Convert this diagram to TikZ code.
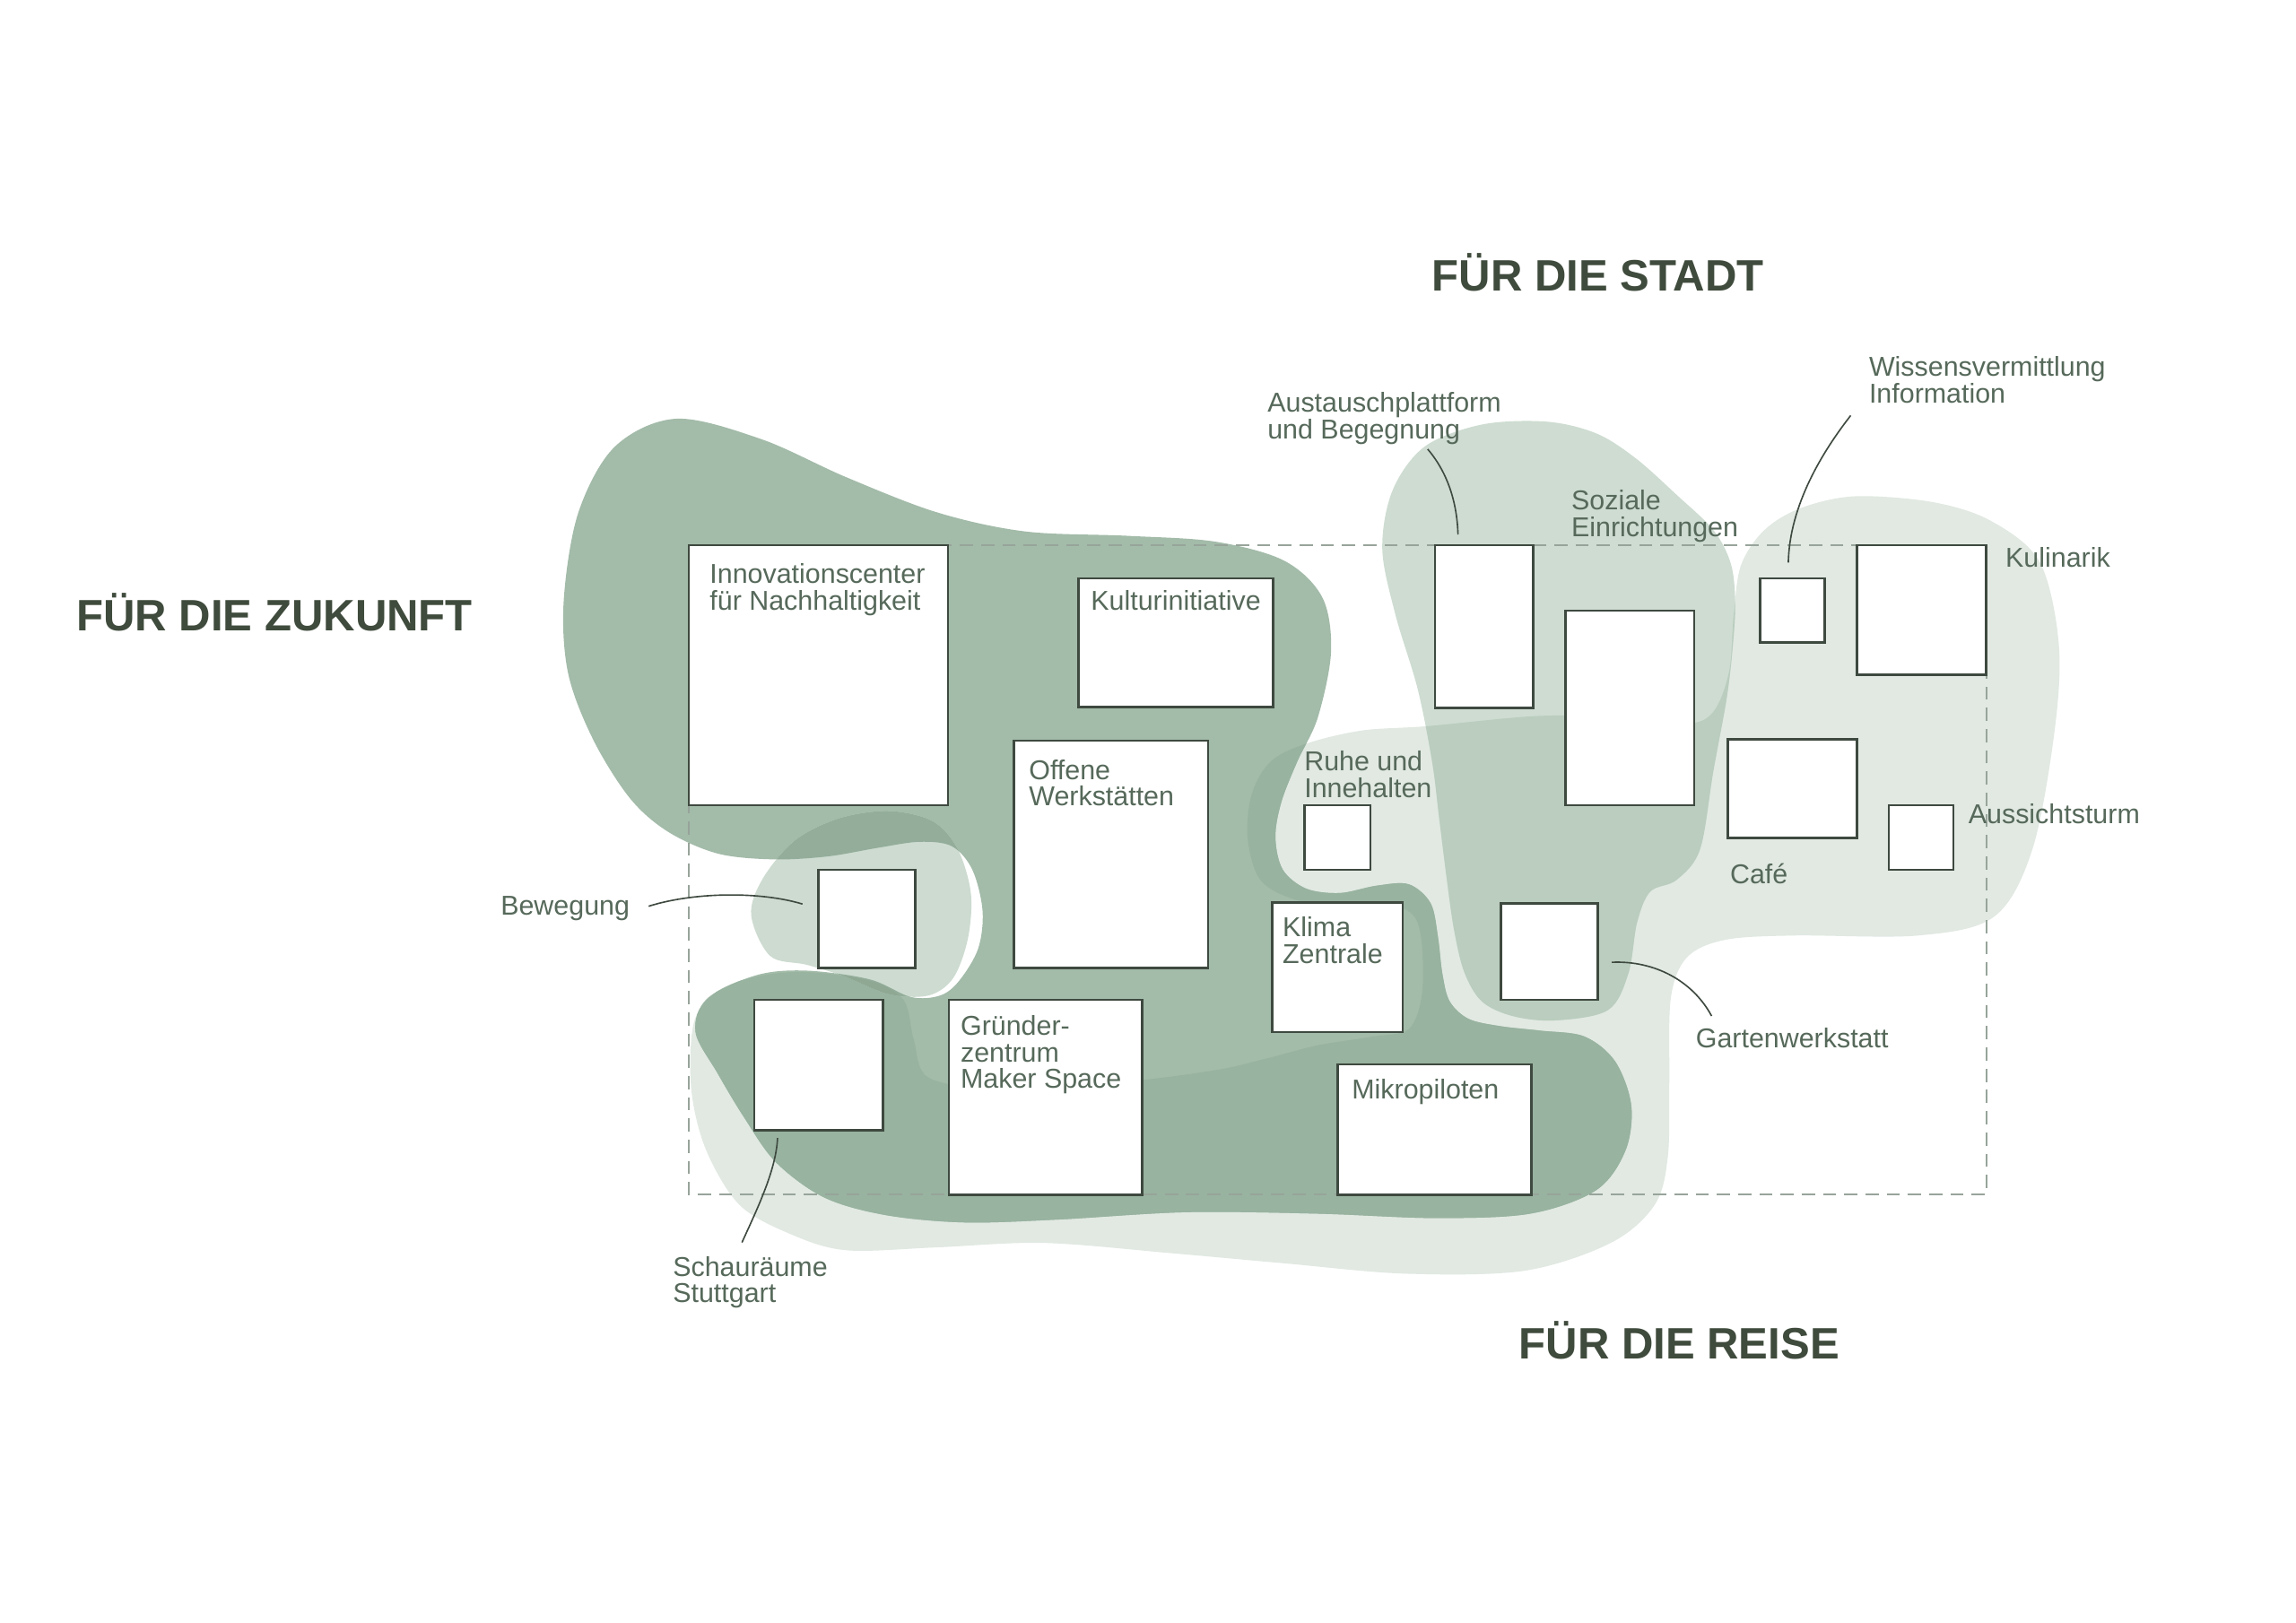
\documentclass[tikz,border=0pt]{standalone}
\usepackage{fontspec}
\setmainfont{Liberation Sans}
\usetikzlibrary{calc}

\definecolor{reise}{HTML}{E1E9E2}
\definecolor{stadt}{HTML}{CEDCD1}
\definecolor{stadtreise}{HTML}{BACDBE}
\definecolor{zukunft}{HTML}{A3BBA9}
\definecolor{zukunftreise}{HTML}{98B3A0}
\definecolor{bewfill}{HTML}{CDDBD0}
\definecolor{bewzuk}{HTML}{93AD9A}
\definecolor{bewzukreise}{HTML}{8EA894}
\definecolor{ink}{HTML}{3F4B3C}
\definecolor{labelink}{HTML}{56695A}
\definecolor{rim}{HTML}{3E493F}
\definecolor{dashc}{HTML}{97A49A}

\newcommand\zukunftblob{plot[smooth cycle, tension=0.55] coordinates {(462,286) (520,300) (578,326) (640,350) (700,363) (770,366) (830,370) (877,383) (903,408) (909,445) (900,490) (886,520) (875,548) (871,572) (876,594) (892,607) (915,610) (940,605) (962,604) (977,617) (982,640) (985,665) (990,684) (1003,696) (1025,701) (1052,704) (1082,708) (1103,725) (1114,755) (1110,786) (1090,813) (1045,829) (980,832) (900,829) (810,828) (723,833) (659,835) (605,830) (563,818) (530,794) (508,763) (490,733) (475,705) (483,682) (517,666) (551,663) (594,669) (622,681) (642,680) (655,670) (668,648) (671,622) (664,594) (650,578) (628,575) (600,579) (565,585) (528,587) (490,583) (456,568) (430,545) (405,505) (388,460) (385,410) (395,350) (420,305)}}
\newcommand\reiseblob{plot[smooth cycle, tension=0.55] coordinates {(474,698) (490,677) (517,667) (551,664) (594,670) (617,683) (624,710) (634,736) (680,743) (766,739) (830,731) (865,723) (900,714) (938,708) (962,703) (971,680) (971,645) (965,625) (945,617) (910,619) (880,613) (860,600) (852,572) (855,542) (868,520) (892,508) (930,499) (975,496) (1052,489) (1120,490) (1155,494) (1171,485) (1181,458) (1184,420) (1189,386) (1205,362) (1230,347) (1267,339) (1320,343) (1360,356) (1393,384) (1406,440) (1403,500) (1388,580) (1362,626) (1310,639) (1225,639) (1178,642) (1152,654) (1141,682) (1140,740) (1139,790) (1130,823) (1100,849) (1041,868) (960,870) (878,863) (800,856) (713,849) (640,852) (578,854) (540,843) (505,823) (482,785) (472,743)}}
\newcommand\stadtblob{plot[smooth cycle, tension=0.55] coordinates {(1056,288) (1090,296) (1117,313) (1145,338) (1170,362) (1182,385) (1185,412) (1183,445) (1179,478) (1170,527) (1161,580) (1145,601) (1127,609) (1118,630) (1112,665) (1098,690) (1062,697) (1033,694) (1012,684) (1000,664) (993,635) (988,600) (983,560) (978,520) (968,470) (953,420) (944,375) (951,335) (973,305) (1012,290)}}
\newcommand\bewblob{plot[smooth cycle, tension=0.55] coordinates {(513,625) (521,600) (543,574) (573,559) (607,554) (637,561) (654,580) (663,610) (661,641) (651,668) (634,680) (607,679) (577,667) (551,659) (526,653)}}
\newcommand\hallbox[5]{\node (#1) [hall, minimum width=#4*0.2mm, minimum height=#5*0.2mm] at (#2,#3) {};}

\tikzset{
	hall/.style={draw=rim, fill=white, line width=0.32mm, inner sep=0pt, outer sep=0pt, anchor=north west},
	lbl/.style={text=labelink, font=\fontsize{10.6pt}{10.3pt}\selectfont, align=left, inner sep=0pt, anchor=base west},
	heading/.style={text=ink, font=\fontsize{17.1pt}{20pt}\selectfont\bfseries, inner sep=0pt, anchor=base west},
	leader/.style={draw=rim, line width=0.2mm},
	frame/.style={draw=dashc, line width=0.2mm, dash pattern=on 1.8mm off 1.1mm}
}

\begin{document}
\begin{tikzpicture}[x=0.2mm, y=-0.2mm]
	\useasboundingbox (0,0) rectangle (1568,1108.6);
	\fill[white] (0,0) rectangle (1568,1108.6);

	\fill[reise] \reiseblob;
	\fill[stadt] \stadtblob;
	\fill[zukunft] \zukunftblob;
	\begin{scope}
		\clip \reiseblob;
		\fill[stadtreise] \stadtblob;
		\fill[zukunftreise] \zukunftblob;
	\end{scope}
	\fill[bewfill] \bewblob;
	\begin{scope}
		\clip \zukunftblob;
		\fill[bewzuk] \bewblob;
		\clip \reiseblob;
		\fill[bewzukreise] \bewblob;
	\end{scope}

	\draw[frame] (470.5,372.5) rectangle (1356.5,816);

	\hallbox{innov}{470.5}{372.5}{177}{177.5}
	\hallbox{kultur}{736.5}{395}{133}{88}
	\hallbox{offene}{692.5}{506}{132.5}{155}
	\hallbox{bew}{559}{594}{66}{67}
	\hallbox{schau}{515}{683}{88}{89}
	\hallbox{gruend}{648}{683}{132}{133}
	\hallbox{mikro}{913.5}{727}{132.5}{89}
	\hallbox{klima}{869}{616.5}{89}{88.5}
	\hallbox{ruhe}{891}{550}{45}{44}
	\hallbox{garten}{1025}{617}{66}{66}
	\hallbox{aus}{980}{372.5}{67}{111}
	\hallbox{sozial}{1069}{417}{88}{133}
	\hallbox{wis}{1202}{395}{44}{44}
	\hallbox{kulin}{1268}{372.5}{88.5}{88.5}
	\hallbox{cafe}{1180}{505}{88}{67.5}
	\hallbox{turm}{1290}{550}{44}{44}

	\node (innovt) [lbl] at ($(innov.north west)+(13.9,44.2)$) {Innovationscenter\\für Nachhaltigkeit};
	\node (kulturt) [lbl] at ($(kultur.north west)+(8.2,21.5)$) {Kulturinitiative};
	\node (offenet) [lbl] at ($(offene.north west)+(9.9,44.6)$) {Offene\\Werkstätten};
	\node (gruendt) [lbl] at ($(gruend.north west)+(7.7,60.5)$) {Gründer-\\zentrum\\Maker Space};
	\node (klimat) [lbl] at ($(klima.north west)+(6.6,41.5)$) {Klima\\Zentrale};
	\node (mikrot) [lbl] at ($(mikro.north west)+(9.4,23.8)$) {Mikropiloten};
	\node (ruhet) [lbl] at ($(ruhe.north west)+(-0.6,-5.3)$) {Ruhe und\\Innehalten};
	\node (soziat) [lbl] at (1072.8,366.5) {Soziale\\Einrichtungen};
	\node (aust) [lbl] at (865.3,299.8) {Austauschplattform\\und Begegnung};
	\node (wist) [lbl] at (1276.1,275.1) {Wissensvermittlung\\Information};
	\node (kulint) [lbl] at ($(kulin.north east)+(12.8,15.1)$) {Kulinarik};
	\node (turmt) [lbl] at ($(turm.north east)+(10,12.8)$) {Aussichtsturm};
	\node (cafet) [lbl] at ($(cafe.south west)+(1.2,31.3)$) {Café};
	\node (gartent) [lbl] at (1157.8,715.4) {Gartenwerkstatt};
	\node (bewt) [lbl] at (341.6,625) {Bewegung};
	\node (schaut) [lbl] at (459.2,889.8) {Schauräume\\Stuttgart};

	\coordinate (bewA) at (443,619);
	\coordinate (schauA) at (506.7,848.7);
	\coordinate (ausA) at (975,306.8);
	\coordinate (wisA) at (1263.9,283.8);
	\coordinate (gartenA) at (1168.9,694);
	\draw[leader] (bewA) .. controls (475,609) and (520,609) .. ($(bew.west)+(-11,-10)$);
	\draw[leader] ($(schau.south)+(-28,5.3)$) .. controls (530,800) and (516,828) .. (schauA);
	\draw[leader] (ausA) .. controls (988,322) and (995,342) .. ($(aus.north)+(-17.8,-7.4)$);
	\draw[leader] (wisA) .. controls (1245,308) and (1222,345) .. ($(wis.north)+(-2.7,-10.7)$);
	\draw[leader] ($(garten.east)+(9.7,7.3)$) .. controls (1130,656) and (1156,670) .. (gartenA);

	\node (zukunftt) [heading] at (52,431) {FÜR DIE ZUKUNFT};
	\node (stadtt) [heading] at (977.7,199) {FÜR DIE STADT};
	\node (reiset) [heading] at (1037,928.3) {FÜR DIE REISE};
\end{tikzpicture}
\end{document}
